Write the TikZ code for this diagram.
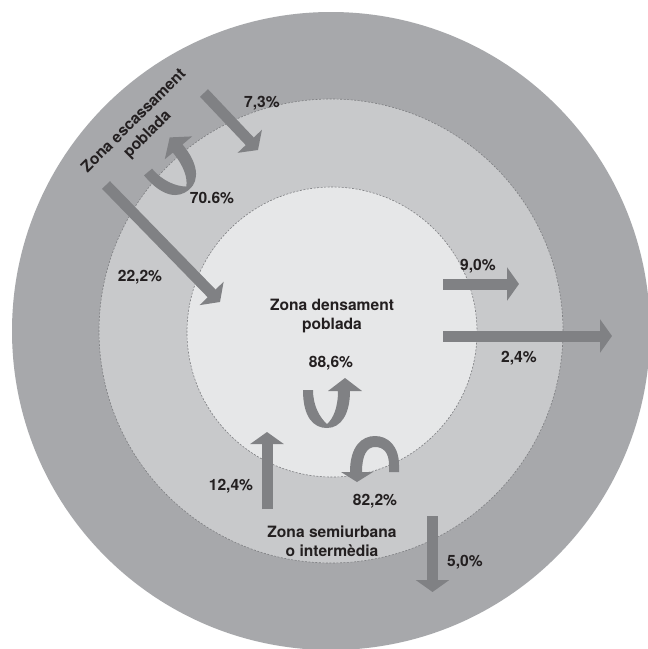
\documentclass[tikz,border=0pt]{standalone}
\usepackage{fontspec}
\setmainfont{TeX Gyre Heros}
\usetikzlibrary{arrows.meta}
\definecolor{ringout}{RGB}{167,168,171}
\definecolor{ringmid}{RGB}{200,201,203}
\definecolor{ringin}{RGB}{230,231,232}
\definecolor{arrowgray}{RGB}{128,129,132}
\definecolor{txt}{RGB}{35,31,32}
\definecolor{dashgray}{RGB}{125,126,129}
\begin{document}
\begin{tikzpicture}[x=1pt,y=-1pt,
  lbl/.style={font=\fontsize{15.6}{19}\selectfont\bfseries, text=txt, inner sep=0pt, align=center},
  blockarrow/.style={draw=arrowgray, line width=11pt, -{Triangle[width=33pt,length=12pt]}},
  ringborder/.style={draw=dashgray, line width=0.6pt, dash pattern=on 2pt off 1.5pt},
  uturn/.pic={\fill[arrowgray] (-24,-1) .. controls (-24,27) and (-13,37) .. (0,37)
      .. controls (14,37) and (23,23) .. (23,0) -- (35,0) -- (18,-13) -- (1,0) -- (11,0)
      .. controls (11,17) and (6,28) .. (0,33) .. controls (-7,27) and (-14,15) .. (-14,-1) -- cycle;}]
\useasboundingbox (0,0) rectangle (648,649);
\clip (0,0) rectangle (648,649);
\fill[white] (0,0) rectangle (648,649);
\coordinate (c) at (331,331);
\fill[ringout] (c) circle (319);
\fill[ringmid] (c) circle (232);
\draw[ringborder] (c) circle (232);
\fill[ringin] (332,332) circle (145);
\draw[ringborder] (332,332) circle (145);

% straight block arrows
\coordinate (a73s) at (204,93);   \coordinate (a73e) at (258,150);
\coordinate (a222s) at (106,185); \coordinate (a222e) at (220,302);
\coordinate (a90s) at (443,284);  \coordinate (a90e) at (519,284);
\coordinate (a24s) at (443,336);  \coordinate (a24e) at (612,336);
\coordinate (a124s) at (267,509); \coordinate (a124e) at (267,432);
\coordinate (a50s) at (432.5,516); \coordinate (a50e) at (432.5,592);
\draw[blockarrow] (a73s) -- (a73e);
\draw[blockarrow] (a222s) -- (a222e);
\draw[blockarrow] (a90s) -- (a90e);
\draw[blockarrow] (a24s) -- (a24e);
\draw[blockarrow] (a124s) -- (a124e);
\draw[blockarrow] (a50s) -- (a50e);

% curved arrows
\pic at (327,391) {uturn};
\pic[rotate=40, scale=1.05] at (164,160) {uturn};
\fill[arrowgray] (341,472) -- (350,472) .. controls (350,446) and (362,436) .. (375,436)
   .. controls (388,436) and (399,446) .. (399,465) -- (399,472) -- (389,472) -- (389,465)
   .. controls (389,452) and (383,447) .. (375,447) .. controls (367,447) and (362,455) .. (362,472)
   -- (373,472) -- (357,482) -- cycle;

% labels
\node[lbl, rotate=45] (tesc) at (141,128) {Zona escassament\\poblada};
\node[lbl] (tdens) at (332,316) {Zona densament\\poblada};
\node[lbl] (tsemi) at (332,541) {Zona semiurbana\\o intermèdia};
\node[lbl] (p73) at (262,103) {7,3\%};
\node[lbl] (p706) at (212,198) {70.6\%};
\node[lbl] (p222) at (140,277) {22,2\%};
\node[lbl] (p90) at (478,266) {9,0\%};
\node[lbl] (p24) at (519,358) {2,4\%};
\node[lbl] (p886) at (331,363) {88,6\%};
\node[lbl] (p822) at (375,501) {82,2\%};
\node[lbl] (p124) at (231,486) {12,4\%};
\node[lbl] (p50) at (465,562) {5,0\%};
\end{tikzpicture}
\end{document}
